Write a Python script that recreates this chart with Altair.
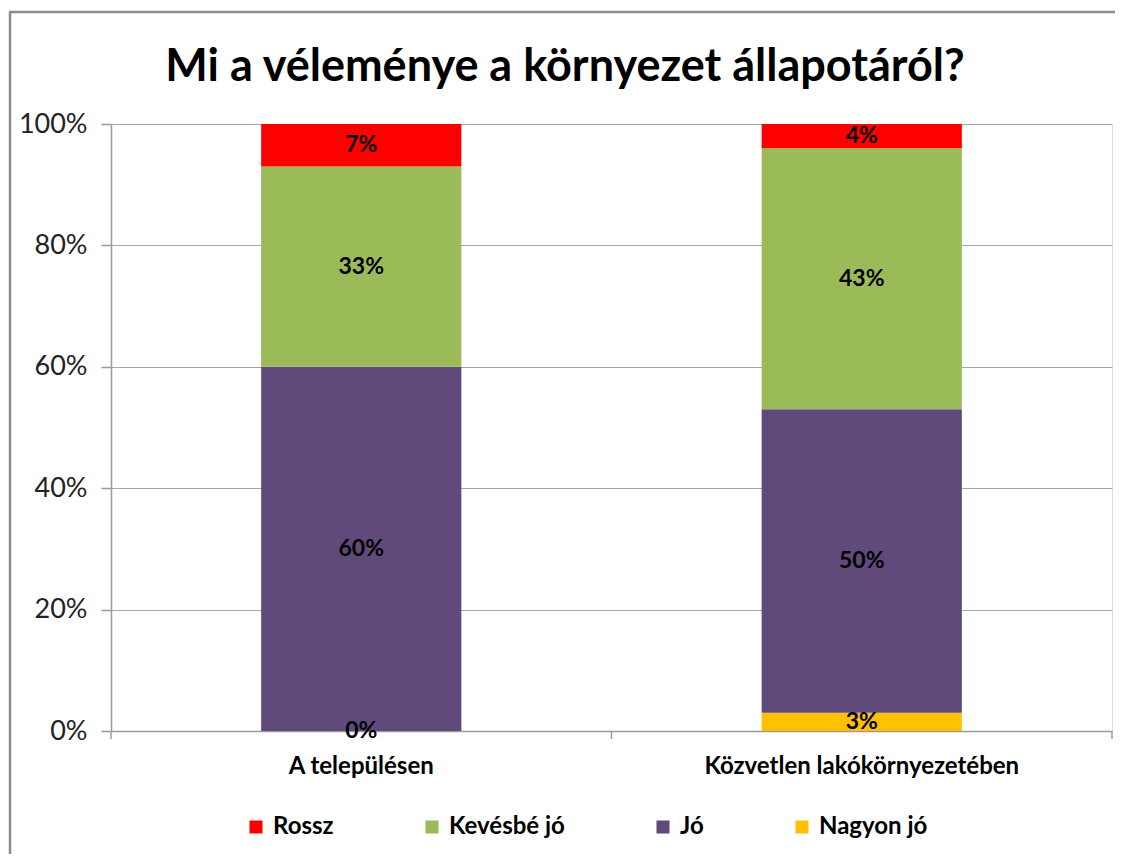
import altair as alt
import pandas as pd

categories = ["A településen", "Közvetlen lakókörnyezetében"]
series = ["Rossz", "Kevésbé jó", "Jó", "Nagyon jó"]
rossz = [7, 4]
kevesbe_jo = [33, 43]
jo = [60, 50]
nagyon_jo = [0, 3]
colors = ["#FF0000", "#9BBB59", "#604A7B", "#FFC000"]
y_ticks = [0, 0.2, 0.4, 0.6, 0.8, 1.0]
title_text = ["Mi a véleménye a környezet állapotáról?"]

rows = []
for s_i, (name, vals) in enumerate(zip(series, [rossz, kevesbe_jo, jo, nagyon_jo])):
    for c, v in zip(categories, vals):
        rows.append({"cat": c, "series": name, "value": v, "order": 3 - s_i})
df = pd.DataFrame(rows)

FONT = "Lato"
W, H = 1001, 607

base = alt.Chart(df).transform_calculate(
    frac="datum.value / 100"
).transform_stack(
    stack="frac", groupby=["cat"], as_=["y0", "y1"],
    sort=[alt.SortField("order", order="ascending")]
).transform_calculate(mid="(datum.y0 + datum.y1) / 2")

xenc = alt.X("cat:N", sort=categories, title=None,
             scale=alt.Scale(paddingInner=0.6, paddingOuter=0.3),
             axis=alt.Axis(labelAngle=0, ticks=False, labelPadding=23, labelLimit=500,
                           labelFont=FONT, labelFontSize=24, labelFontWeight="bold",
                           labelColor="#000000", domainColor="#9A9A9A", domainWidth=1.5))

bars = base.mark_bar().encode(
    x=xenc,
    y=alt.Y("y0:Q", title=None,
            scale=alt.Scale(domain=[0, 1], nice=False),
            axis=alt.Axis(values=y_ticks, format=".0%", grid=True,
                          gridColor="#A6A6A6", gridWidth=1.2,
                          domainColor="#9A9A9A", domainWidth=1.5,
                          tickColor="#9A9A9A", tickSize=10, tickWidth=1.5,
                          labelFont=FONT, labelFontSize=27, labelColor="#222222",
                          labelPadding=14)),
    y2="y1:Q",
    color=alt.Color("series:N", sort=series,
                    scale=alt.Scale(domain=series, range=colors),
                    legend=alt.Legend(title=None, orient="none", direction="horizontal",
                                      columns=4, columnPadding=86,
                                      legendX=133, legendY=691,
                                      symbolType="square", symbolSize=170,
                                      symbolStrokeWidth=0, symbolOpacity=1,
                                      labelFont=FONT, labelFontSize=24,
                                      labelFontWeight="bold", labelColor="#000000",
                                      labelOffset=5)),
    order=alt.Order("order:Q"),
)

labels = base.mark_text(font=FONT, fontSize=23, fontWeight="bold", color="#000000",
                        baseline="middle").transform_calculate(
    lbl="datum.value + '%'"
).encode(
    x=alt.X("cat:N", sort=categories),
    y=alt.Y("mid:Q"),
    text="lbl:N",
)

deco = alt.Chart(alt.Data(values=[{"k": 1}]))
xticks = alt.layer(*[
    deco.mark_rule(color="#9A9A9A", strokeWidth=1.5).encode(
        x=alt.value(px), y=alt.value(H), y2=alt.value(H + 8))
    for px in [0, 500.5, 1001]
])
frame_left = deco.mark_rule(color="#8C8C8C", strokeWidth=2.5).encode(
    x=alt.value(-101), y=alt.value(-112), y2=alt.value(H + 200))
frame_top = deco.mark_rule(color="#8C8C8C", strokeWidth=2.5).encode(
    x=alt.value(-102), x2=alt.value(W + 200), y=alt.value(-112))

title = alt.Chart(alt.Data(values=[{"t": t} for t in title_text])).mark_text(
    font=FONT, fontSize=45, fontWeight="bold", color="#000000",
    align="center", baseline="middle"
).encode(x=alt.value(454), y=alt.value(-57), text="t:N")

chart = alt.layer(bars, labels, xticks, frame_left, frame_top, title).properties(
    width=W, height=H,
    autosize=alt.AutoSizeParams(type="none"),
    padding={"left": 103, "top": 116, "right": 3, "bottom": 123},
).configure_view(stroke=None).configure(background="white")

chart.save("out.html", embed_options={"renderer": "svg", "actions": False})
